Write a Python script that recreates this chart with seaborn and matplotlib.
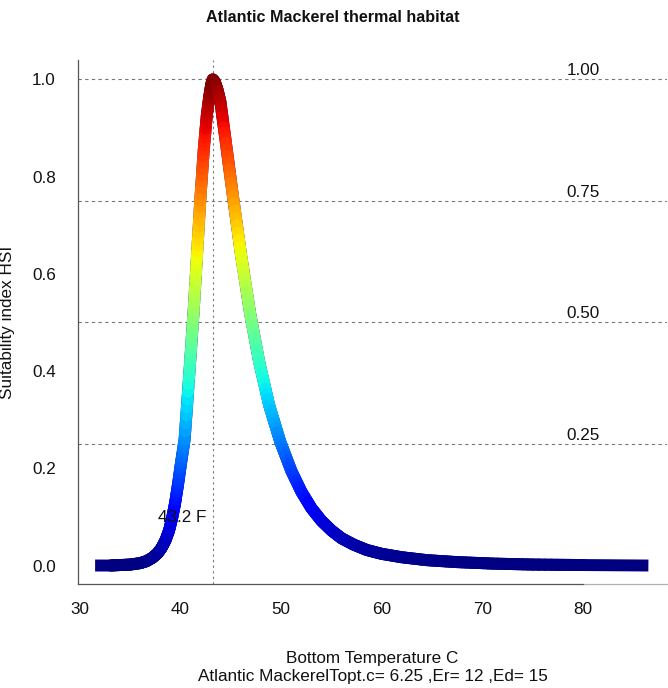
import numpy as np
import pandas as pd
import matplotlib
matplotlib.use("Agg")
import matplotlib.pyplot as plt
from matplotlib.collections import LineCollection
import seaborn as sns

# Habitat suitability curve (temperature in deg F, suitability index)
temp_f = [31.5, 33.0, 34.0, 35.0, 36.0, 36.6, 37.2, 37.7, 38.1, 38.5,
          38.85, 39.15, 39.45, 39.75, 40.05, 40.4, 40.85, 41.3, 41.65, 41.95,
          42.3, 42.6, 42.85, 43.05, 43.2,
          43.4, 43.65, 43.95, 44.5, 45.2, 46.0, 46.9, 47.8, 48.8, 49.9,
          51.0, 52.0, 53.0, 54.0, 55.0, 56.0, 57.2, 58.5, 60.0, 62.0,
          64.5, 67.5, 71.0, 75.0, 80.0, 86.5]
hsi = [0.0, 0.0, 0.001, 0.002, 0.005, 0.009, 0.016, 0.025, 0.036, 0.052,
       0.072, 0.097, 0.128, 0.168, 0.212, 0.26, 0.39, 0.525, 0.645, 0.75,
       0.855, 0.925, 0.965, 0.99, 1.0,
       0.995, 0.98, 0.955, 0.87, 0.76, 0.64, 0.52, 0.42, 0.33, 0.255,
       0.195, 0.152, 0.118, 0.092, 0.072, 0.056, 0.043, 0.032, 0.024, 0.017,
       0.011, 0.007, 0.004, 0.002, 0.001, 0.0]

ref_levels = [0.25, 0.50, 0.75, 1.00]
ref_labels = ["0.25", "0.50", "0.75", "1.00"]
topt_f = 43.2
topt_label = "43.2 F"
x_ticks = [30, 40, 50, 60, 70, 80]
y_ticks = [0.0, 0.2, 0.4, 0.6, 0.8, 1.0]

title = "Atlantic Mackerel thermal habitat"
xlabel_1 = "Bottom Temperature C"
xlabel_2 = "Atlantic MackerelTopt.c= 6.25 ,Er= 12 ,Ed= 15"
ylabel = "Suitability index HSI"

sns.set_style("white")
plt.rcParams["font.family"] = ["Liberation Sans", "DejaVu Sans"]
FS = 12.3

W, H = 668, 688
fig = plt.figure(figsize=(W / 100, H / 100), dpi=100)
ax = fig.add_axes([78 / W, 1 - 584 / H, (667 - 78) / W, (584 - 60) / H])

df = pd.DataFrame({"temp": temp_f, "hsi": hsi})
cmap = plt.get_cmap("jet")
lw = 8.6

# base stroke with square ends
sns.lineplot(data=df, x="temp", y="hsi", ax=ax, sort=False, estimator=None,
             color=cmap(0.0), linewidth=lw, solid_capstyle="butt",
             solid_joinstyle="round", zorder=3)

# colour-graded stroke on top: each polyline edge is split into short
# pieces so the colour follows the suitability value along the edge
pts = df[["temp", "hsi"]].to_numpy()
pieces = []
for a, b in zip(pts[1:-2], pts[2:-1]):
    t = np.linspace(0, 1, 9)
    sub = a + (b - a) * t[:, None]
    pieces.extend(np.stack([sub[:-1], sub[1:]], axis=1))
pieces = np.array(pieces)
mid = pieces[:, :, 1].mean(axis=1)
lc = LineCollection(pieces, cmap=cmap, norm=plt.Normalize(0, 1),
                    linewidths=lw, capstyle="round", joinstyle="round", zorder=4)
lc.set_array(mid)
ax.add_collection(lc)

xmin, xmax = 29.8, 88.35
ymin, ymax = -0.038, 1.04
ax.set_xlim(xmin, xmax)
ax.set_ylim(ymin, ymax)

grid_col = "#777777"
for lev, lab in zip(ref_levels, ref_labels):
    ax.axhline(lev, color=grid_col, lw=0.8, ls=(0, (3, 3)), zorder=2)
    ax.annotate(lab, (80, lev), xytext=(0, 1.0), textcoords="offset points",
                ha="center", va="bottom", fontsize=FS, color="#111111")
ax.axvline(topt_f, color=grid_col, lw=0.8, ls=(0, (2, 3)), zorder=2)
ax.text(topt_f - 3, 0.098, topt_label, ha="center", va="center",
        fontsize=FS, color="#111111", zorder=5)

# axes in the base-graphics look
for s in ["top", "right"]:
    ax.spines[s].set_visible(False)
axis_col = "#555555"
for s in ["left", "bottom"]:
    ax.spines[s].set_color(axis_col)
    ax.spines[s].set_linewidth(0.9)
ax.spines["bottom"].set_bounds(xmin, 80)
ax.plot([80, xmax], [ymin, ymin], color="#b0b0b0", lw=0.9, clip_on=False, zorder=1)

ax.set_xticks(x_ticks)
ax.set_xticklabels([str(t) for t in x_ticks])
ax.set_yticks(y_ticks)
ax.set_yticklabels([f"{t:.1f}" for t in y_ticks])
ax.tick_params(axis="both", direction="out", length=8, width=0.9,
               color=axis_col, labelsize=FS, labelcolor="#111111")
ax.tick_params(axis="x", pad=5)
ax.tick_params(axis="y", pad=8)
ax.set_xlabel("")
ax.set_ylabel("")

fig.text(333 / W, 1 - 18 / H, title, ha="center", va="center",
         fontsize=11.6, fontweight="bold", color="#111111")
fig.text(372.5 / W, 1 - 658 / H, xlabel_1, ha="center", va="center",
         fontsize=FS, color="#111111")
fig.text(372.5 / W, 1 - 677 / H, xlabel_2, ha="center", va="center",
         fontsize=FS, color="#111111")
fig.text(8 / W, 1 - 322 / H, ylabel, ha="center", va="center",
         rotation=90, fontsize=FS, color="#111111")

fig.savefig("out.png", dpi=100, facecolor="white")
